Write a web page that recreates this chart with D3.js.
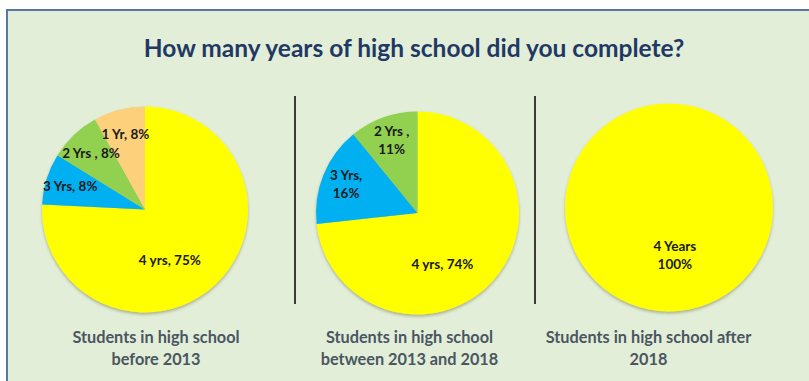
<!DOCTYPE html>
<html lang="en">
<head>
<meta charset="utf-8" />
<title>How many years of high school did you complete?</title>
<script src="https://d3js.org/d3.v7.min.js"></script>
<style>
  body { margin: 0; background: #ffffff; }
  text { font-family: Lato, "Open Sans", sans-serif; font-weight: bold; }
</style>
</head>
<body>
<div id="chart"></div>
<script>
// data
var title = "How many years of high school did you complete?";

var labels1 = ["4 yrs", "3 Yrs", "2 Yrs ", "1 Yr"];
var values1 = [75, 8, 8, 8];
var caption1 = ["Students in high school", "before 2013"];

var labels2 = ["4 yrs", "3 Yrs", "2 Yrs "];
var values2 = [74, 16, 11];
var caption2 = ["Students in high school", "between 2013 and 2018"];

var labels3 = ["4 Years"];
var values3 = [100];
var caption3 = ["Students in high school after", "2018"];

var colorOf = {
  "4 yrs": "#ffff00", "4 Years": "#ffff00",
  "3 Yrs": "#00b0f0",
  "2 Yrs ": "#92d050",
  "1 Yr": "#fdd07c"
};

// layout
var width = 809, height = 381;

var pies = [
  { labels: labels1, values: values1, caption: caption1, cx: 145, cy: 209.5, r: 103, split: false, main: [154, 0.55], capX: 156 },
  { labels: labels2, values: values2, caption: caption2, cx: 417.5, cy: 213, r: 101.5, split: true, main: [154, 0.56], capX: 409.5 },
  { labels: labels3, values: values3, caption: caption3, cx: 669, cy: 207.5, r: 104, split: true, main: [173, 0.46], capX: 648.5 }
];

var svg = d3.select("#chart").append("svg")
  .attr("width", width)
  .attr("height", height);

var defs = svg.append("defs");
var shadow = defs.append("filter").attr("id", "shadow")
  .attr("x", "-10%").attr("y", "-10%").attr("width", "120%").attr("height", "125%");
shadow.append("feDropShadow")
  .attr("dx", 0).attr("dy", 2).attr("stdDeviation", 1.6)
  .attr("flood-color", "#6b6b2a").attr("flood-opacity", 0.45);

// panel
svg.append("rect")
  .attr("x", 7).attr("y", 10)
  .attr("width", width - 6).attr("height", height - 9)
  .attr("fill", "#e2eed8")
  .attr("stroke", "#58779f")
  .attr("stroke-width", 2);

svg.append("text")
  .attr("x", 414).attr("y", 57)
  .attr("text-anchor", "middle")
  .attr("fill", "#1f3864")
  .style("font-size", "24.5px")
  .text(title);

// separators
[295, 535].forEach(function (x) {
  svg.append("line")
    .attr("x1", x).attr("x2", x)
    .attr("y1", 96).attr("y2", 304)
    .attr("stroke", "#3a3a3a")
    .attr("stroke-width", 2);
});

var pie = d3.pie().sort(null);

pies.forEach(function (p) {
  var g = svg.append("g")
    .attr("transform", "translate(" + p.cx + "," + p.cy + ")");

  var arc = d3.arc().innerRadius(0).outerRadius(p.r);
  var labelArc = d3.arc().innerRadius(p.r * 0.76).outerRadius(p.r * 0.76);

  var arcs = pie(p.values);

  g.append("g").attr("filter", "url(#shadow)")
    .selectAll("path")
    .data(arcs)
    .enter()
    .append("path")
    .attr("d", arc)
    .attr("fill", function (d, i) { return colorOf[p.labels[i]]; });

  arcs.forEach(function (d, i) {
    var pos;
    if (i === 0) {
      var a = p.main[0] * Math.PI / 180, k = p.main[1] * p.r;
      pos = [Math.sin(a) * k, -Math.cos(a) * k];
    } else {
      pos = labelArc.centroid(d);
    }
    var pct = Math.round(p.values[i]) + "%";
    var lines;
    if (p.labels.length === 1) lines = [p.labels[i], pct];
    else if (p.split && i > 0) lines = [p.labels[i] + ",", pct];
    else lines = [p.labels[i] + ", " + pct];

    var t = g.append("text")
      .attr("text-anchor", "middle")
      .attr("fill", "#1a1a1a")
      .style("font-size", "13.5px");
    lines.forEach(function (l, j) {
      t.append("tspan")
        .attr("x", pos[0])
        .attr("y", pos[1] + (j - (lines.length - 1) / 2) * 18 + 5)
        .text(l);
    });
  });

  var cap = svg.append("text")
    .attr("text-anchor", "middle")
    .attr("fill", "#4a5662")
    .style("font-size", "16.3px");
  p.caption.forEach(function (l, j) {
    cap.append("tspan")
      .attr("x", p.capX)
      .attr("y", 343 + j * 21.5)
      .text(l);
  });
});
</script>
</body>
</html>
